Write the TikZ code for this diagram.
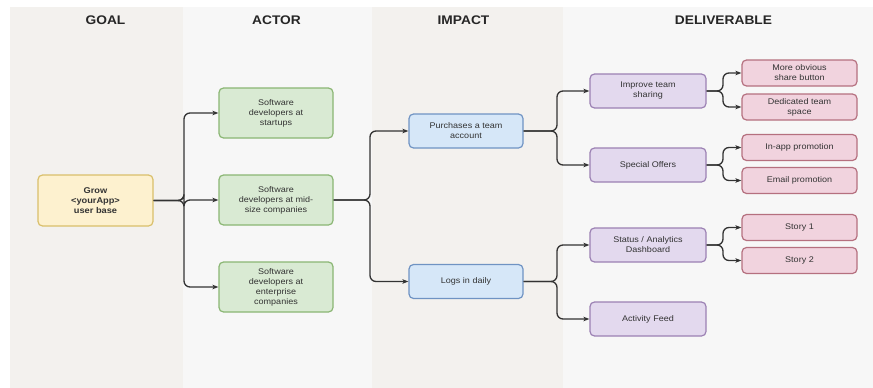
\documentclass[tikz,border=0pt]{standalone}
\usepackage{fontspec}
\setmainfont{Liberation Sans}[FakeStretch=1.1]
\usetikzlibrary{arrows.meta}

\definecolor{lanewarm}{HTML}{F3F1EE}
\definecolor{lanecool}{HTML}{F7F7F7}
\definecolor{goalfill}{HTML}{FDF1CF}
\definecolor{goaldraw}{HTML}{D9BF6A}
\definecolor{actorfill}{HTML}{D9EAD3}
\definecolor{actordraw}{HTML}{8AB673}
\definecolor{impactfill}{HTML}{D6E7F8}
\definecolor{impactdraw}{HTML}{6F93C3}
\definecolor{delfill}{HTML}{E3D9EE}
\definecolor{deldraw}{HTML}{9B80B3}
\definecolor{subfill}{HTML}{F1D3DE}
\definecolor{subdraw}{HTML}{B5707F}
\definecolor{wire}{HTML}{333333}
\definecolor{inktext}{HTML}{333333}

\tikzset{
  x=1pt, y=-1pt,
  box/.style={rounded corners=4.5pt, line width=1.2pt, align=center,
    font=\fontsize{8.2}{10}\selectfont, text=inktext, inner sep=0pt},
  goalbox/.style={box, fill=goalfill, draw=goaldraw, minimum width=115pt, minimum height=51pt,
    font=\fontsize{8.4}{10}\selectfont\bfseries},
  actorbox/.style={box, fill=actorfill, draw=actordraw, minimum width=114pt, minimum height=50pt},
  impactbox/.style={box, fill=impactfill, draw=impactdraw, minimum width=114pt, minimum height=34pt},
  delbox/.style={box, fill=delfill, draw=deldraw, minimum width=116pt, minimum height=34pt},
  subbox/.style={box, fill=subfill, draw=subdraw, minimum width=115pt, minimum height=26pt},
  lanehead/.style={font=\fontsize{12.5}{14}\selectfont\bfseries, text=black!85},
  link/.style={draw=wire, line width=1.3pt, rounded corners=6pt,
    -{Stealth[length=6pt, width=4.5pt, inset=1.5pt]}},
}

\begin{document}
\begin{tikzpicture}
\useasboundingbox (0,0) rectangle (873,388);
\fill[white] (0,0) rectangle (873,388);

% swim lanes
\fill[lanewarm] (10,7) rectangle (183,388);
\fill[lanecool] (183,7) rectangle (372,388);
\fill[lanewarm] (372,7) rectangle (563,388);
\fill[lanecool] (563,7) rectangle (873,388);

\node[lanehead] (hgoal) at (105.5,20) {GOAL};
\node[lanehead] (hactor) at (276.5,20) {ACTOR};
\node[lanehead] (himpact) at (463.5,20) {IMPACT};
\node[lanehead] (hdel) at (723.5,20) {DELIVERABLE};

% goal
\node[goalbox] (goal) at (95.5,200.5) {Grow\\<yourApp>\\user base};

% actors
\node[actorbox] (a1) at (276,113) {Software\\developers at\\startups};
\node[actorbox] (a2) at (276,200) {Software\\developers at mid-\\size companies};
\node[actorbox] (a3) at (276,287) {Software\\developers at\\enterprise\\companies};

% impacts
\node[impactbox] (i1) at (466,131) {Purchases a team\\account};
\node[impactbox] (i2) at (466,281.5) {Logs in daily};

% deliverables
\node[delbox] (d1) at (648,91) {Improve team\\sharing};
\node[delbox] (d2) at (648,165) {Special Offers};
\node[delbox] (d3) at (648,245) {Status / Analytics\\Dashboard};
\node[delbox] (d4) at (648,319) {Activity Feed};

% sub-deliverables
\node[subbox] (s1) at (799.5,73) {More obvious\\share button};
\node[subbox] (s2) at (799.5,107) {Dedicated team\\space};
\node[subbox] (s3) at (799.5,147.5) {In-app promotion};
\node[subbox] (s4) at (799.5,180.5) {Email promotion};
\node[subbox] (s5) at (799.5,227.5) {Story 1};
\node[subbox] (s6) at (799.5,260.5) {Story 2};

% connectors
\foreach \t in {a1,a2,a3}
  \draw[link] (goal.east) -| (184,0 |- \t.west) -- (\t.west);
\foreach \t in {i1,i2}
  \draw[link] (a2.east) -| (370,0 |- \t.west) -- (\t.west);
\foreach \t in {d1,d2}
  \draw[link] (i1.east) -| (557,0 |- \t.west) -- (\t.west);
\foreach \t in {d3,d4}
  \draw[link] (i2.east) -| (557,0 |- \t.west) -- (\t.west);
\foreach \t in {s1,s2}
  \draw[link] (d1.east) -| (723,0 |- \t.west) -- (\t.west);
\foreach \t in {s3,s4}
  \draw[link] (d2.east) -| (723,0 |- \t.west) -- (\t.west);
\foreach \t in {s5,s6}
  \draw[link] (d3.east) -| (723,0 |- \t.west) -- (\t.west);
\end{tikzpicture}
\end{document}
